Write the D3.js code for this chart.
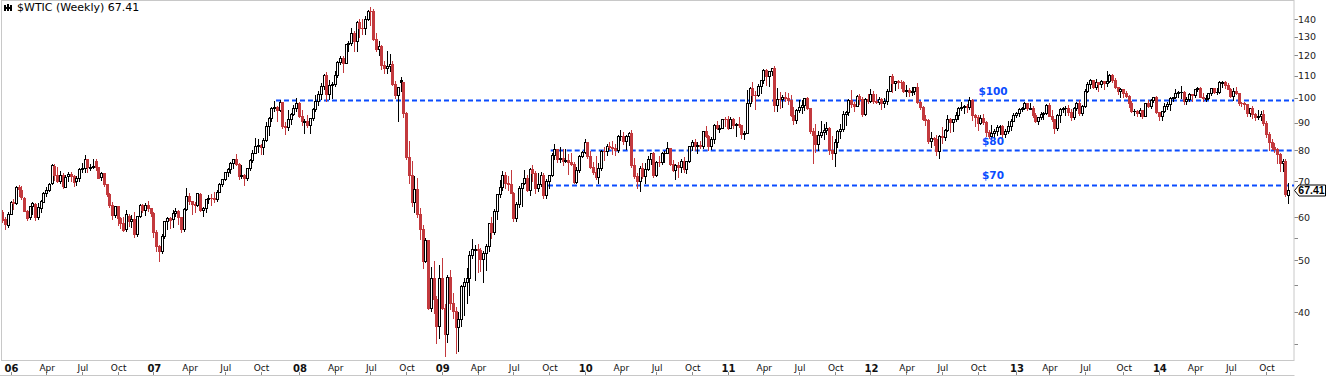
<!DOCTYPE html>
<html>
<head>
<meta charset="utf-8">
<script src="https://cdn.jsdelivr.net/npm/d3@7"></script>
<style>
	body { margin: 0; background: #fff; }
	svg { display: block; font-family: "DejaVu Sans", Verdana, sans-serif; }
</style>
</head>
<body>
<div id="chart"></div>
<script>
// weekly bars, first bar is the week of 12 Dec 2005, one line per year
const firstWeek = new Date(2005, 11, 12);

const opens = [
	61.4, 59.6, 58.2,
	61.0,64.2,63.9,68.3,67.6,65.3,61.8,60.0,62.9,63.5,60.0,62.6,64.2,66.7,67.5,69.4,74.8,72.0,70.1,72.0,68.4,71.5,72.3,71.5,70.0,70.9,74.0,74.2,77.0,74.4,74.5,76.5,74.4,71.2,72.5,69.2,66.3,63.3,60.6,62.9,59.8,58.6,57.0,60.5,59.0,59.5,55.9,60.3,63.3,62.0,63.4,62.4,
	61.1,56.3,53.0,52.0,55.4,59.0,59.8,59.5,61.2,61.6,60.0,57.1,62.3,65.9,64.3,63.6,63.4,66.2,61.9,62.4,64.9,65.2,65.1,64.8,67.0,69.2,70.7,72.8,73.9,75.6,77.0,75.5,71.5,72.0,71.1,74.0,76.7,79.1,81.6,81.7,81.2,83.7,88.6,91.9,95.9,96.3,95.1,98.2,88.7,88.3,91.3,93.3,
	96.0,97.9,92.7,90.6,90.7,89.0,91.8,95.5,98.8,101.8,105.2,110.2,101.8,105.6,106.2,110.1,116.7,118.5,116.3,126.0,126.3,132.2,127.4,138.5,134.9,134.6,140.2,145.3,145.1,128.9,123.3,125.1,115.2,113.8,114.6,115.5,106.2,101.2,108.0,106.9,93.9,77.7,71.9,64.2,67.8,61.0,57.0,49.9,54.4,40.8,46.3,42.4,
	37.7,46.3,40.8,36.5,46.5,41.7,40.2,37.5,38.9,44.8,45.5,46.3,51.1,52.4,52.5,52.2,50.3,51.6,53.2,58.6,56.3,61.7,66.3,68.4,72.0,69.6,69.2,66.7,59.9,63.6,68.1,69.5,70.9,67.5,73.9,72.7,68.0,69.3,72.0,66.0,70.0,71.8,78.5,80.5,77.0,77.4,76.4,76.7,76.1,75.5,69.9,73.4,78.1,
	79.4,82.8,78.0,74.5,72.9,71.2,74.1,79.8,79.7,81.5,81.2,80.7,80.0,84.9,84.9,83.2,85.1,86.2,75.1,71.6,70.0,74.0,71.5,73.8,77.2,78.9,72.1,76.1,76.0,79.0,79.0,80.7,75.4,73.5,75.2,74.6,76.5,73.7,76.5,81.6,82.7,81.3,81.7,81.4,86.9,84.9,81.5,83.8,89.2,87.8,88.0,91.5,
	91.4,88.0,91.5,89.1,89.3,89.0,85.6,86.2,97.9,104.4,101.2,101.1,105.4,107.9,112.8,109.7,112.3,113.9,97.2,99.7,99.5,100.6,100.2,99.3,93.0,91.2,94.9,96.2,97.2,99.9,95.7,86.9,85.4,82.3,85.4,86.5,87.2,88.0,79.9,79.2,83.0,86.8,87.4,93.3,94.3,99.0,97.4,96.8,101.0,99.4,93.5,99.7,
	98.8,101.6,98.7,98.5,99.6,97.8,98.7,103.2,109.8,106.7,107.4,107.1,106.9,103.0,103.3,102.8,103.1,104.9,98.5,96.1,91.5,90.9,83.2,84.1,84.0,79.8,85.0,84.5,87.1,91.4,90.1,91.4,92.9,96.0,96.2,96.5,96.4,99.0,92.9,92.2,89.9,91.9,90.1,86.3,84.9,86.1,86.9,88.3,88.9,85.9,86.7,88.7,
	90.8,93.1,93.6,95.6,95.9,97.8,95.7,95.9,93.1,90.7,92.0,93.5,93.7,97.2,92.7,91.3,88.0,93.0,95.6,96.0,96.0,94.2,92.0,96.0,97.9,93.7,96.6,103.2,106.0,108.1,104.7,106.9,106.0,107.5,106.4,107.7,110.5,108.2,104.7,102.9,103.8,102.0,100.8,97.9,94.6,94.6,93.8,94.8,92.7,97.7,96.6,99.3,
	100.3,94.0,92.7,94.4,96.6,97.5,99.9,100.3,102.2,102.6,102.6,98.9,99.5,101.7,101.1,103.7,104.3,100.6,99.8,100.0,102.0,104.4,102.7,102.7,106.9,107.3,105.7,104.1,100.8,103.1,102.1,97.9,97.7,97.4,93.7,96.0,93.3,92.3,92.4,93.5,89.7,85.8,82.8,81.0,80.5,78.7,75.8,76.5,66.0
];

const highs = [
	62.0, 60.1, 61.4,
	64.4,65.0,68.6,68.8,68.5,65.5,62.0,63.0,64.0,63.9,63.8,64.6,67.0,68.3,69.5,75.4,75.3,74.6,73.3,72.5,72.0,73.0,73.0,72.0,71.5,74.0,75.8,78.4,77.1,75.5,77.0,77.0,74.5,73.0,72.6,69.3,66.6,64.0,63.0,63.0,60.0,60.0,62.0,61.0,60.6,61.5,60.5,63.5,63.5,63.7,64.3,62.6,
	61.3,56.8,53.3,56.0,59.2,60.0,60.0,62.0,62.4,62.0,60.1,62.5,68.1,66.7,64.5,64.0,66.6,66.5,62.7,65.0,66.0,66.2,66.9,67.4,69.5,70.8,72.8,74.2,76.0,77.2,78.8,75.8,75.2,72.4,74.2,77.0,80.2,84.1,83.8,82.0,84.1,90.1,92.2,96.2,98.6,96.5,99.3,98.3,90.1,94.8,93.8,97.0,
	100.1,98.5,95.0,91.6,93.0,91.8,96.0,101.3,103.1,106.5,111.0,111.8,107.9,106.9,112.2,117.0,119.9,119.5,126.2,127.8,135.1,133.0,139.1,139.9,139.9,142.0,145.9,147.3,146.0,132.0,127.4,125.6,117.0,122.0,120.5,117.0,107.7,105.0,109.5,107.0,94.0,83.3,76.5,71.5,71.0,62.4,58.0,55.0,54.5,48.5,49.8,42.8,
	49.0,50.5,41.5,46.9,48.0,43.5,41.0,40.0,45.0,46.3,48.3,52.0,54.7,53.4,53.5,52.7,51.9,53.5,58.7,60.1,62.3,66.4,70.3,73.2,72.8,71.5,73.4,66.9,64.2,68.5,69.5,73.4,72.0,74.2,75.0,73.3,72.5,73.0,72.5,70.8,72.0,78.9,82.0,80.5,81.1,80.5,80.5,78.8,79.0,75.9,74.5,78.3,79.7,
	83.9,83.0,79.6,76.2,78.0,75.6,80.0,81.0,82.0,82.9,83.2,82.0,85.2,87.1,86.5,85.4,86.5,87.2,77.5,72.5,74.7,75.7,75.6,78.0,79.0,79.5,76.5,78.0,79.4,79.8,82.9,80.8,76.8,75.3,76.0,77.0,77.8,76.5,81.6,83.6,84.0,83.0,83.2,87.0,88.6,85.5,84.5,89.5,90.8,89.0,91.6,92.0,
	92.6,92.0,91.9,89.9,92.2,89.1,87.0,103.4,104.6,107.0,103.0,106.2,108.0,113.0,113.0,112.3,113.9,114.8,104.5,102.6,101.4,102.6,102.0,101.2,96.2,95.4,99.3,99.1,100.0,100.6,96.0,88.0,89.5,87.0,90.5,89.3,90.4,88.5,84.9,84.0,87.2,89.4,94.6,94.7,99.4,103.4,98.5,101.3,101.7,100.4,100.0,101.8,
	103.7,103.0,101.9,100.5,100.0,100.2,103.8,109.8,110.6,107.4,107.8,108.0,107.7,105.5,104.2,104.6,105.0,106.4,98.9,96.5,92.9,91.3,86.5,84.8,85.5,85.3,88.3,87.5,92.9,91.8,91.6,94.2,96.3,98.3,97.1,97.5,100.4,99.6,93.5,92.8,92.8,93.5,90.5,87.3,89.0,87.4,89.1,89.0,89.2,87.7,90.5,91.3,
	93.8,94.1,96.0,96.4,98.2,98.0,97.9,96.7,93.6,92.0,94.0,94.2,97.4,97.8,95.0,91.5,93.2,96.0,96.4,96.5,97.0,95.5,96.2,98.2,99.0,97.0,103.8,107.0,108.5,108.1,108.3,107.0,108.0,107.6,112.2,110.7,110.8,108.7,104.9,104.2,104.0,103.0,101.3,98.8,95.3,95.0,96.0,95.0,98.0,99.0,99.4,100.5,
	100.8,94.2,94.5,97.8,98.3,100.3,100.5,104.0,103.0,105.2,102.9,100.4,102.0,101.9,104.0,104.9,104.6,102.0,101.5,102.3,104.4,104.5,104.2,107.7,107.7,107.5,106.5,104.2,104.2,105.0,102.3,98.5,98.5,97.5,96.0,96.6,93.8,95.0,94.5,94.9,90.6,86.3,83.8,82.5,80.7,79.0,77.0,76.9,69.5
];

const lows = [
	58.8, 57.2, 57.6,
	60.8,62.2,63.5,65.9,65.0,61.6,59.3,59.5,60.8,59.3,59.5,61.3,64.0,65.9,67.2,69.3,70.5,69.9,69.4,68.0,68.3,70.0,70.0,68.5,68.8,70.2,73.0,72.8,73.0,73.5,74.0,73.5,71.0,70.5,68.7,65.9,62.8,59.5,60.0,58.2,57.4,56.6,56.6,57.8,57.5,55.3,55.5,60.0,61.5,60.7,61.6,60.5,
	55.1,51.9,49.9,51.6,55.0,57.0,57.3,57.5,60.5,58.4,56.5,56.7,62.0,63.5,60.9,61.3,63.0,61.8,60.5,61.5,63.8,63.3,64.0,64.5,66.8,68.5,70.5,71.5,72.5,74.0,75.0,70.8,71.0,69.0,70.5,73.5,76.2,79.0,79.3,78.6,78.6,83.2,85.5,90.6,94.5,90.8,94.4,88.0,85.9,87.3,89.3,93.0,
	94.6,92.0,89.0,86.1,88.2,86.1,91.0,94.5,97.0,99.6,104.0,98.7,99.6,100.1,105.2,109.5,115.5,111.8,116.0,122.0,125.5,122.3,122.5,130.0,131.3,131.4,139.5,136.6,128.2,122.5,120.4,113.0,111.3,111.4,112.0,105.5,100.1,90.5,103.0,92.3,77.0,69.5,63.0,61.3,60.0,54.7,48.3,49.6,40.5,40.3,39.9,35.1,
	35.8,40.5,33.2,35.2,40.5,39.0,33.6,33.9,37.7,39.6,41.7,43.0,50.5,45.9,47.5,47.8,45.5,48.0,52.0,55.0,56.0,59.5,65.5,67.5,68.2,67.5,66.5,59.1,59.2,62.8,63.0,69.2,67.1,66.0,70.2,66.5,67.1,68.5,65.1,65.1,68.2,71.5,77.2,76.0,76.0,75.2,76.1,72.4,75.0,69.5,69.5,72.8,77.8,
	79.0,77.4,74.1,72.4,70.7,69.5,73.5,76.6,78.5,80.5,78.7,78.3,79.5,83.7,82.0,80.5,81.8,74.3,71.0,68.0,67.3,71.0,69.5,73.6,75.5,71.4,71.5,74.8,75.5,76.0,79.0,75.1,73.2,70.8,71.4,72.8,73.0,72.5,76.0,80.0,80.1,79.0,80.9,80.9,84.5,80.1,80.5,82.5,87.5,86.6,87.9,88.9,
	87.5,88.0,87.9,84.9,88.3,84.3,83.9,86.0,96.5,98.8,95.4,101.0,102.0,106.8,105.5,105.4,110.5,94.6,94.6,95.9,96.4,98.8,97.3,92.7,89.6,90.0,94.0,93.8,95.0,95.3,86.0,75.7,79.4,80.0,84.8,84.0,85.6,78.8,77.1,74.9,81.2,84.2,87.0,89.2,93.0,96.3,94.6,96.5,97.6,92.5,93.1,98.0,
	98.5,98.0,98.0,97.4,95.4,96.1,97.6,103.1,102.8,103.4,104.5,104.2,102.4,101.0,100.7,101.4,101.6,98.0,95.2,91.2,89.2,82.5,81.2,81.9,78.5,77.3,82.5,83.6,86.8,86.4,86.7,90.5,91.5,94.8,93.8,94.0,95.5,91.2,88.9,87.2,89.5,89.4,84.9,84.1,84.1,84.1,85.3,85.6,84.8,84.6,86.0,87.2,
	90.7,92.0,92.6,94.5,95.3,95.0,95.2,92.0,90.1,89.3,91.5,91.4,93.5,92.5,90.8,86.1,87.2,90.4,94.2,93.1,93.0,90.9,91.5,94.8,93.0,93.0,96.3,102.5,104.3,104.3,103.7,103.0,104.8,103.8,105.4,106.9,107.1,104.2,101.8,100.6,100.5,100.4,96.1,94.2,93.1,92.5,92.6,91.8,92.4,96.3,96.0,98.4,
	93.8,91.2,91.2,94.3,95.4,95.0,98.8,99.8,100.5,100.2,97.4,97.4,98.8,98.7,100.6,103.0,100.3,98.9,98.7,99.7,101.5,102.2,101.7,102.2,105.0,104.4,103.8,100.5,99.0,101.8,97.0,96.7,95.2,92.5,92.5,91.7,91.0,91.5,91.2,89.2,84.6,80.0,80.3,79.4,75.8,73.3,73.3,65.7,63.7
];

const closes = [
	59.4, 58.4, 61.0,
	64.2,63.9,68.4,67.8,65.4,61.8,59.9,62.9,63.7,60.0,62.7,64.3,66.6,67.4,69.3,75.2,71.9,70.2,72.0,68.5,71.4,72.3,71.6,69.9,70.9,73.9,74.1,77.0,74.4,74.5,74.8,74.4,71.1,72.5,69.2,66.3,63.3,60.6,62.9,59.8,58.6,56.8,60.8,59.1,59.6,55.8,60.3,63.4,62.0,63.4,62.4,61.1,
	56.3,53.0,52.0,55.4,59.0,59.9,59.4,61.1,61.6,60.1,57.1,62.3,65.9,64.3,63.6,63.4,66.5,61.9,62.4,64.9,65.2,65.1,64.8,67.0,69.2,70.7,72.8,73.9,75.6,77.0,75.5,71.5,72.0,71.1,74.0,76.7,79.1,81.6,81.7,81.2,83.7,88.6,91.9,95.9,96.3,95.1,98.2,88.7,88.3,91.3,93.3,96.0,
	97.9,92.7,90.6,90.7,89.0,91.8,95.5,98.8,101.8,105.2,110.2,101.8,105.6,106.2,110.1,116.7,118.5,116.3,126.0,126.3,132.2,127.4,138.5,134.9,134.6,140.2,145.3,145.1,128.9,123.3,125.1,115.2,113.8,114.6,115.5,106.2,101.2,104.6,106.9,93.9,77.7,71.9,64.2,67.8,61.0,57.0,49.9,54.4,40.8,46.3,42.4,37.7,
	46.3,40.8,36.5,46.5,41.7,40.2,37.5,38.9,44.8,45.5,46.3,51.1,52.4,52.5,52.2,50.3,51.6,53.2,58.6,56.3,61.7,66.3,68.4,72.0,69.6,69.2,66.7,59.9,63.6,68.1,69.5,70.9,67.5,73.9,72.7,68.0,69.3,72.0,66.0,70.0,71.8,78.5,80.5,77.0,77.4,76.4,76.7,76.1,75.5,69.9,73.4,78.1,79.4,
	82.8,78.0,74.5,72.9,71.2,74.1,79.8,79.7,81.5,81.2,80.7,80.0,84.9,84.9,83.2,85.1,86.2,75.1,71.6,70.0,74.0,71.5,73.8,77.2,78.9,72.1,76.1,76.0,79.0,79.0,80.7,75.4,73.5,75.2,74.6,76.5,73.7,76.5,81.6,82.7,81.3,81.7,81.4,86.9,84.9,81.5,83.8,89.2,87.8,88.0,91.5,91.4,
	88.0,91.5,89.1,89.3,89.0,85.6,86.2,97.9,104.4,101.2,101.1,105.4,107.9,112.8,109.7,112.3,113.9,97.2,99.7,99.5,100.6,100.2,99.3,93.0,91.2,94.9,96.2,97.2,99.9,95.7,86.9,85.4,82.3,85.4,86.5,87.2,88.0,79.9,79.2,83.0,86.8,87.4,93.3,94.3,99.0,97.4,96.8,101.0,99.4,93.5,99.7,98.8,
	101.6,98.7,98.5,99.6,97.8,98.7,103.2,109.8,106.7,107.4,107.1,106.9,103.0,103.3,102.8,103.1,104.9,98.5,96.1,91.5,90.9,83.2,84.1,84.0,79.8,85.0,84.5,87.1,91.4,90.1,91.4,92.9,96.0,96.2,96.5,96.4,99.0,92.9,92.2,89.9,91.9,90.1,86.3,84.9,86.1,86.9,88.3,88.9,85.9,86.7,88.7,90.8,
	93.1,93.6,95.6,95.9,97.8,95.7,95.9,93.1,90.7,92.0,93.5,93.7,97.2,92.7,91.3,88.0,93.0,95.6,96.0,96.0,94.2,92.0,96.0,97.9,93.7,96.6,103.2,106.0,108.1,104.7,106.9,106.0,107.5,106.4,107.7,110.5,108.2,104.7,102.9,103.8,102.0,100.8,97.9,94.6,94.6,93.8,94.8,92.7,97.7,96.6,99.3,100.3,
	94.0,92.7,94.4,96.6,97.5,99.9,100.3,102.2,102.6,102.6,98.9,99.5,101.7,101.1,103.7,104.3,100.6,99.8,100.0,102.0,104.4,102.7,102.7,106.9,107.3,105.7,104.1,100.8,103.1,102.1,97.9,97.7,97.4,93.7,96.0,93.3,92.3,92.4,93.5,89.7,85.8,82.8,81.0,80.5,78.7,75.8,76.5,66.2,67.41
];

// horizontal support / resistance levels
const levelValues = [99, 80, 69];
const levelLabels = ["$100", "$80", "$70"];
const levelStarts = [new Date(2007, 10, 12), new Date(2009, 9, 12), new Date(2009, 9, 5)];

const yTicks = [40, 50, 60, 70, 80, 90, 100, 110, 120, 130, 140];
const yMinorTicks = [35, 45, 55];
const monthLabels = { 3: "Apr", 6: "Jul", 9: "Oct" };

const title = "$WTIC (Weekly) 67.41";
const lastLabel = "67.41";

const width = 1330, height = 376;
const plot = { left: 2, right: 1294, top: 1, bottom: 360.5 };
const red = "#c3393d", blue = "#0a4cff", grid = "#c8c8c8";

const n = closes.length;
const weekDate = (i) => d3.timeDay.offset(firstWeek, 7 * i);
const indexOf = (d) => Math.round((d - firstWeek) / (7 * 864e5));

const x = d3.scaleLinear().domain([3, n - 1]).range([10.5, 1288]);
const y = d3.scaleLog().domain([40, 140]).range([312.3, 19.3]);

const svg = d3.select("#chart").append("svg")
	.attr("width", width)
	.attr("height", height);

svg.append("defs").append("clipPath").attr("id", "plotclip")
	.append("rect")
	.attr("x", plot.left).attr("y", plot.top)
	.attr("width", plot.right - plot.left).attr("height", plot.bottom - plot.top);

// frame
svg.append("rect")
	.attr("x", 1.5).attr("y", 0.5)
	.attr("width", plot.right - 1.5).attr("height", 360)
	.attr("fill", "none").attr("stroke", grid);
svg.append("line")
	.attr("x1", 0).attr("x2", plot.right + 0.5)
	.attr("y1", 375.5).attr("y2", 375.5)
	.attr("stroke", grid);

const g = svg.append("g").attr("clip-path", "url(#plotclip)");

// level lines
levelValues.forEach((v, k) => {
	const yy = Math.round(y(v)) + 0.5;
	g.append("line")
		.attr("x1", x(indexOf(levelStarts[k])) - 1)
		.attr("x2", plot.right)
		.attr("y1", yy).attr("y2", yy)
		.attr("stroke", blue)
		.attr("stroke-width", 2)
		.attr("stroke-dasharray", "5,3");
});

// candles
const bars = d3.range(n).map((i) => ({
	i: i,
	o: opens[i], h: highs[i], l: lows[i], c: closes[i],
	up: i === 0 ? closes[i] >= opens[i] : closes[i] >= closes[i - 1]
}));

const candle = g.selectAll("g.bar")
	.data(bars)
	.enter()
	.append("g")
	.attr("class", "bar")
	.attr("shape-rendering", "crispEdges");

candle.append("line")
	.attr("x1", (d) => Math.round(x(d.i)) + 0.5)
	.attr("x2", (d) => Math.round(x(d.i)) + 0.5)
	.attr("y1", (d) => Math.round(y(d.h)))
	.attr("y2", (d) => Math.round(y(d.l)) + 1)
	.attr("stroke", (d) => (d.up ? "#000" : red));

candle.each(function (d) {
	const cx = Math.round(x(d.i));
	const top = Math.round(y(Math.max(d.o, d.c)));
	const bot = Math.round(y(Math.min(d.o, d.c)));
	const col = d.up ? "#000" : red;
	const sel = d3.select(this);
	if (d.c > d.o) {
		// hollow body
		sel.append("rect")
			.attr("x", cx - 0.5).attr("y", top + 0.5)
			.attr("width", 2).attr("height", Math.max(1, bot - top))
			.attr("fill", "#fff").attr("stroke", col);
	} else {
		sel.append("rect")
			.attr("x", cx - 1).attr("y", top)
			.attr("width", 3).attr("height", Math.max(1, bot - top + 1))
			.attr("fill", col);
	}
});

// level labels
levelValues.forEach((v, k) => {
	svg.append("text")
		.attr("x", 993)
		.attr("y", y(v) - 9)
		.attr("text-anchor", "middle")
		.attr("dy", "0.35em")
		.attr("font-size", "10.5px")
		.attr("font-weight", "bold")
		.attr("fill", blue)
		.text(levelLabels[k]);
});

// right axis
const yAxis = svg.append("g");
yAxis.selectAll("line.major")
	.data(yTicks.concat(yMinorTicks))
	.enter()
	.append("line")
	.attr("x1", plot.right + 0.5).attr("x2", plot.right + 4)
	.attr("y1", (d) => Math.round(y(d)) + 0.5)
	.attr("y2", (d) => Math.round(y(d)) + 0.5)
	.attr("stroke", "#888");
yAxis.selectAll("text")
	.data(yTicks)
	.enter()
	.append("text")
	.attr("x", 1298)
	.attr("y", (d) => y(d))
	.attr("dy", "0.36em")
	.attr("font-size", "9.5px")
	.attr("fill", "#222")
	.text((d) => d);

// bottom axis: first bar of each quarter month
const xTicks = [];
for (let i = 1; i < n; i++) {
	const d = weekDate(i), p = weekDate(i - 1);
	const m = d.getMonth();
	if (m % 3 === 0 && m !== p.getMonth()) {
		xTicks.push({ i: i, year: m === 0, label: m === 0 ? d3.timeFormat("%y")(d) : monthLabels[m] });
	}
}
const xAxis = svg.append("g");
xAxis.selectAll("line")
	.data(xTicks)
	.enter()
	.append("line")
	.attr("x1", (d) => Math.round(x(d.i)) + 0.5)
	.attr("x2", (d) => Math.round(x(d.i)) + 0.5)
	.attr("y1", 372).attr("y2", 375)
	.attr("stroke", "#888");
xAxis.selectAll("text")
	.data(xTicks)
	.enter()
	.append("text")
	.attr("x", (d) => x(d.i) + 1)
	.attr("y", 368)
	.attr("dy", "0.35em")
	.attr("text-anchor", "middle")
	.attr("font-size", (d) => (d.year ? "10px" : "9px"))
	.attr("font-weight", (d) => (d.year ? "bold" : "normal"))
	.attr("fill", "#111")
	.text((d) => d.label);

// last price tag
const ly = Math.round(y(closes[n - 1])) + 0.5;
svg.append("path")
	.attr("d", `M${plot.right + 0.5},${ly} L${plot.right + 5},${ly - 5.5} L1325.5,${ly - 5.5} L1325.5,${ly + 5.5} L${plot.right + 5},${ly + 5.5} Z`)
	.attr("fill", "#fff")
	.attr("stroke", "#000");
svg.append("text")
	.attr("x", 1311.5)
	.attr("y", ly)
	.attr("dy", "0.36em")
	.attr("text-anchor", "middle")
	.attr("font-family", "'Liberation Sans', Arial, sans-serif")
	.attr("font-size", "10.5px")
	.attr("font-weight", "bold")
	.text(lastLabel);

// title with small chart glyph
const icon = svg.append("g").attr("shape-rendering", "crispEdges");
[[4, 5, 6], [7, 4, 7], [10, 5, 6]].forEach((b) => {
	icon.append("rect").attr("x", b[0]).attr("y", b[1]).attr("width", 2).attr("height", b[2]).attr("fill", "#000");
});
icon.append("rect").attr("x", 6).attr("y", 7).attr("width", 1).attr("height", 2).attr("fill", "#000");
icon.append("rect").attr("x", 9).attr("y", 7).attr("width", 1).attr("height", 2).attr("fill", "#000");
svg.append("text")
	.attr("x", 17)
	.attr("y", 11)
	.attr("font-size", "11px")
	.attr("fill", "#000")
	.text(title);
</script>
</body>
</html>
